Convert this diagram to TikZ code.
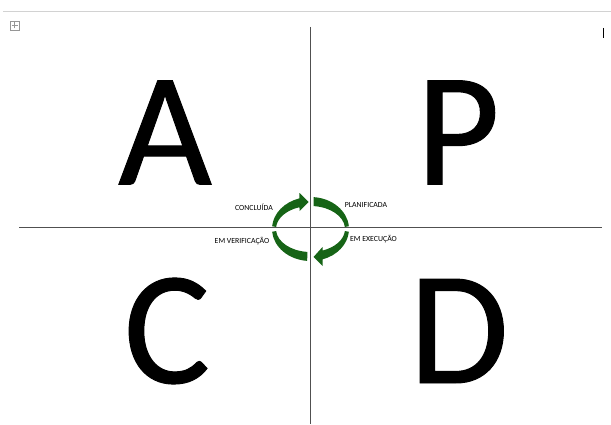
\documentclass[tikz,border=0pt]{standalone}
\usepackage{fontspec}
\setmainfont{Carlito}
\newfontfamily\heavyletters[FakeBold=0.6]{Carlito}
\definecolor{arrowgreen}{RGB}{22,100,22}
\definecolor{gridline}{RGB}{80,80,80}
\definecolor{topline}{RGB}{210,210,210}
\definecolor{icongray}{RGB}{150,150,150}
\tikzset{
  bigletter/.style={anchor=base, inner sep=0pt, font=\heavyletters\fontsize{162}{162}\selectfont},
  statelabel/.style={inner sep=0pt, font=\fontsize{7.8}{8}\selectfont},
  band/.style={fill=arrowgreen, draw=none},
  axis/.style={draw=gridline, line width=0.9pt}
}
\begin{document}
\begin{tikzpicture}[x=1pt,y=1pt]
\useasboundingbox (0,0) rectangle (611,424);
% top gray rule
\draw[topline, line width=1pt] (3,412) -- (611,412);
% table move icon
\draw[icongray, line width=0.5pt] (10,394) rectangle (19,403);
\draw[icongray, line width=0.6pt] (14.5,395.5) -- (14.5,401.5) (11.5,398.5) -- (17.5,398.5);
% cursor mark
\draw[black, line width=0.8pt] (603,396) -- (603,386);
% axes
\coordinate (vtop) at (310.7,397);
\coordinate (vbot) at (310.7,0);
\coordinate (hleft) at (19,196.5);
\coordinate (hright) at (602,196.5);
\draw[axis] (vtop) -- (vbot);
\draw[axis] (hleft) -- (hright);
% letters
\node[bigletter] (A) at (165,239.5) {A};
\node[bigletter] (P) at (458,239.5) {P};
\node[bigletter] (C) at (167,41) {C};
\node[bigletter] (D) at (459,41) {D};
% cycle arrows
\begin{scope}[shift={(310.5,195)}]
  % top-left with arrowhead pointing right
  \fill[band] (175:38.5 and 32) arc[start angle=175, end angle=107, x radius=38.5, y radius=32]
     -- (-11,36) -- (-2,27) -- (-11,18)
     -- (108.6:34.5 and 23) arc[start angle=108.6, end angle=175, x radius=34.5, y radius=23] -- cycle;
  % top-right plain band
  \fill[band] (85.5:38.5 and 32) arc[start angle=85.5, end angle=5, x radius=38.5, y radius=32]
     -- (5:34.5 and 23) arc[start angle=5, end angle=85, x radius=34.5, y radius=23] -- cycle;
  % bottom-right with arrowhead pointing left
  \fill[band] (-5:38.5 and 32) arc[start angle=-5, end angle=-71.8, x radius=38.5, y radius=32]
     -- (12,-37) -- (3,-28) -- (12,-18)
     -- (-69.6:34.5 and 23) arc[start angle=-69.6, end angle=-5, x radius=34.5, y radius=23] -- cycle;
  % bottom-left plain band
  \fill[band] (185:38.5 and 32) arc[start angle=185, end angle=265, x radius=38.5, y radius=32]
     -- (265:34.5 and 23) arc[start angle=265, end angle=185, x radius=34.5, y radius=23] -- cycle;
\end{scope}
% state labels
\node[statelabel] (concluida) at (254,217) {CONCLUÍDA};
\node[statelabel] (planificada) at (366,219) {PLANIFICADA};
\node[statelabel] (verificacao) at (242,183) {EM VERIFICAÇÃO};
\node[statelabel] (execucao) at (373.5,185) {EM EXECUÇÃO};
\end{tikzpicture}
\end{document}
